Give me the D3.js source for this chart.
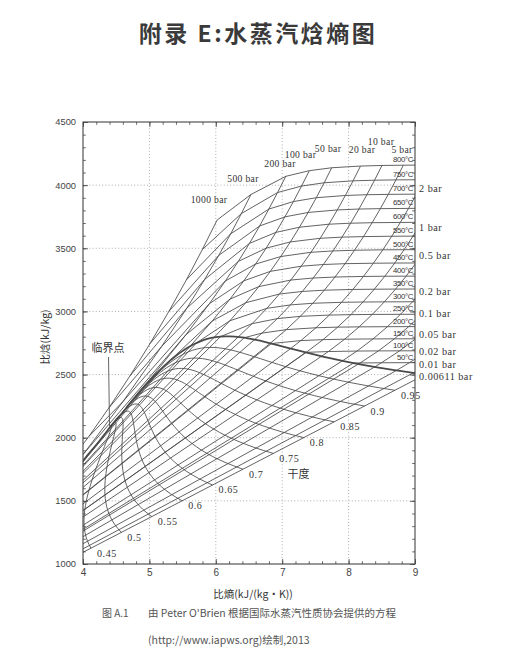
<!DOCTYPE html>
<html><head><meta charset="utf-8">
<script src="https://cdn.jsdelivr.net/npm/d3@7"></script>
<style>body{margin:0;background:#fff}svg{display:block}</style>
</head><body><svg id="c" width="528" height="658"></svg>
<script>
// ---------------- DATA ----------------
const pressures = [0.00611,0.01,0.02,0.05,0.1,0.2,0.5,1,2,5,10,20,50,100,200,500,1000]; // bar
const temps = [50,100,150,200,250,300,350,400,450,500,550,600,650,700,750,800]; // °C
const _ = null;
// entropy s [kJ/(kg·K)] on the (pressure, temperature) grid
const sGrid = [
 [_,_,_,_,_,_,_,_,_,_,_,_,_,_,_,_],
 [9.2368,9.5116,_,_,_,_,_,_,_,_,_,_,_,_,_,_],
 [8.9168,9.1916,9.4320,_,_,_,_,_,_,_,_,_,_,_,_,_],
 [8.4940,8.7688,9.0092,9.2248,9.4214,_,_,_,_,_,_,_,_,_,_,_],
 [8.1741,8.4489,8.6893,8.9049,9.1015,9.2827,9.4513,9.6094,_,_,_,_,_,_,_,_],
 [_,8.1262,8.3685,8.5844,8.7812,8.9626,9.1314,9.2894,9.4386,_,_,_,_,_,_,_],
 [_,7.6953,7.9413,8.1592,8.3568,8.5387,8.7079,8.8659,9.0150,9.1566,9.2908,_,_,_,_,_],
 [_,7.3611,7.6148,7.8356,8.0346,8.2172,8.3868,8.5452,8.6946,8.8362,8.9705,9.0999,9.2234,_,_,_],
 [_,_,7.2810,7.5081,7.7100,7.8941,8.0645,8.2236,8.3732,8.5153,8.6497,8.7793,8.9029,9.0221,9.1367,9.2479],
 [_,_,_,7.0610,7.2725,7.4614,7.6346,7.7956,7.9465,8.0893,8.2246,8.3544,8.4784,8.5978,8.7129,8.8240],
 [_,_,_,6.6955,6.9265,7.1246,7.3029,7.4670,7.6200,7.7642,7.9010,8.0311,8.1557,8.2755,8.3910,8.5024],
 [_,_,_,_,6.5475,6.7684,6.9583,7.1292,7.2866,7.4337,7.5725,7.7043,7.8300,7.9510,8.0674,8.1791],
 [_,_,_,_,_,6.2110,6.4516,6.6483,6.8210,6.9781,7.1237,7.2605,7.3903,7.5136,7.6319,7.7458],
 [_,_,_,_,_,_,5.9460,6.2141,6.4219,6.5995,6.7585,6.9045,7.0408,7.1693,7.2916,7.4085],
 [_,_,_,_,_,_,3.7275,5.5525,5.9043,6.1446,6.3390,6.5075,6.6596,6.7990,6.9302,7.0544],
 [_,_,_,_,_,_,3.580,4.012,4.599,5.184,5.564,5.831,6.044,6.224,6.385,6.529],
 [_,_,_,_,_,_,3.494,3.787,4.088,4.395,4.708,5.009,5.293,5.557,5.797,6.020]
];
// enthalpy h [kJ/kg] on the same grid
const hGrid = [
 [_,_,_,_,_,_,_,_,_,_,_,_,_,_,_,_],
 [2594.5,2688.4,_,_,_,_,_,_,_,_,_,_,_,_,_,_],
 [2594.3,2688.3,2783.5,_,_,_,_,_,_,_,_,_,_,_,_,_],
 [2593.4,2688.0,2783.3,2879.8,2977.6,_,_,_,_,_,_,_,_,_,_,_],
 [2592.0,2687.5,2783.0,2879.6,2977.5,3076.7,3177.8,3280.0,_,_,_,_,_,_,_,_],
 [_,2686.2,2782.3,2879.1,2977.1,3076.4,3177.6,3279.8,3384.2,_,_,_,_,_,_,_],
 [_,2682.4,2780.2,2877.8,2976.2,3075.8,3177.0,3279.3,3383.7,3489.3,3596.6,_,_,_,_,_],
 [_,2675.8,2776.6,2875.5,2974.5,3074.5,3175.8,3278.6,3383.1,3488.7,3596.2,3705.6,3816.8,_,_,_],
 [_,_,2769.1,2870.7,2971.2,3072.1,3174.1,3277.0,3381.7,3487.7,3595.2,3704.8,3815.9,3928.8,4043.2,4159.3],
 [_,_,_,2855.8,2961.0,3064.6,3168.1,3272.4,3378.1,3484.5,3592.6,3702.5,3813.9,3927.0,4041.6,4157.9],
 [_,_,_,2828.3,2943.1,3051.6,3158.2,3264.5,3371.4,3479.1,3588.4,3698.6,3810.8,3924.1,4039.1,4155.7],
 [_,_,_,_,2903.3,3024.2,3137.7,3248.4,3358.2,3468.3,3579.1,3690.7,3803.6,3918.2,4034.1,4151.2],
 [_,_,_,_,_,2925.7,3069.3,3196.7,3317.2,3434.7,3550.5,3666.9,3783.8,3900.3,4018.7,4137.7],
 [_,_,_,_,_,_,2924.0,3097.5,3242.4,3375.1,3501.0,3625.8,3748.9,3870.0,3992.6,4114.5],
 [_,_,_,_,_,_,1645.7,2816.9,3061.7,3241.2,3396.2,3539.0,3676.4,3810.6,3941.5,4069.9],
 [_,_,_,_,_,_,1630.0,1874.4,2284.7,2722.5,3025.8,3252.6,3443.5,3614.6,3775.0,3925.8],
 [_,_,_,_,_,_,1610.0,1800.0,2010.0,2240.0,2490.0,2745.0,3000.0,3250.0,3490.0,3724.0]
];
// saturation state of each isobar (null above the critical pressure)
const isoTsat = [0.01,6.97,17.50,32.87,45.81,60.06,81.32,99.61,120.21,151.83,179.88,212.38,263.94,311.00,365.75,_,_];
const isoHf = [0.00,29.30,73.43,137.75,191.81,251.42,340.54,417.50,504.70,640.09,762.51,908.47,1154.5,1408.1,1827.1,_,_];
const isoHg = [2500.9,2513.7,2533.1,2560.7,2583.9,2608.9,2645.2,2674.9,2706.3,2748.1,2777.1,2798.3,2794.2,2725.5,2412.3,_,_];
const isoSf = [0.0000,0.1059,0.2606,0.4763,0.6492,0.8320,1.0912,1.3028,1.5302,1.8604,2.1381,2.4468,2.9207,3.3603,4.0146,_,_];
const isoSg = [9.1556,8.9749,8.7226,8.3938,8.1488,7.9073,7.5931,7.3588,7.1270,6.8207,6.5850,6.3390,5.9737,5.6159,4.9310,_,_];
// saturation table by temperature
const satT  = [0.01,10,20,30,40,50,60,70,80,90,100,110,120,130,140,150,160,170,180,190,200,210,220,230,240,250,260,270,280,290,300,310,320,330,340,350,355,360,365,368,370,372,373,373.5,373.95];
const satP  = [0.00611,0.01228,0.02339,0.04247,0.07384,0.12352,0.19946,0.3119,0.4739,0.7018,1.0142,1.4338,1.9867,2.7028,3.6154,4.7616,6.1823,7.9219,10.028,12.552,15.549,19.077,23.196,27.971,33.469,39.762,46.923,55.030,64.166,74.418,85.879,98.651,112.84,128.56,145.93,165.29,175.7,186.66,198.3,205.6,210.44,215.4,218.0,219.3,220.64];
const satHf = [0.00,42.02,83.91,125.74,167.53,209.34,251.18,293.07,335.02,377.04,419.17,461.42,503.81,546.38,589.16,632.18,675.47,719.08,763.05,807.43,852.26,897.61,943.55,990.14,1037.5,1085.7,1135.0,1185.3,1236.9,1290.0,1344.8,1402.0,1462.2,1526.2,1594.5,1671.2,1714.0,1764.2,1820.0,1860.0,1890.7,1950.0,1990.0,2030.0,2084.3];
const satHg = [2500.9,2519.2,2537.4,2555.6,2573.5,2591.3,2608.8,2626.1,2643.0,2659.6,2675.6,2691.1,2705.9,2720.1,2733.5,2745.9,2757.4,2767.9,2777.2,2785.3,2792.0,2797.3,2801.1,2803.1,2803.0,2800.9,2796.6,2789.7,2779.9,2766.7,2749.6,2727.9,2700.6,2666.0,2621.8,2563.6,2525.5,2481.5,2421.0,2372.0,2332.3,2262.0,2200.0,2150.0,2084.3];
const satSf = [0.0000,0.1511,0.2965,0.4368,0.5724,0.7038,0.8313,0.9551,1.0756,1.1929,1.3072,1.4188,1.5279,1.6346,1.7392,1.8418,1.9426,2.0417,2.1392,2.2355,2.3305,2.4245,2.5177,2.6101,2.7020,2.7935,2.8849,2.9765,3.0685,3.1612,3.2552,3.3510,3.4494,3.5518,3.6601,3.7784,3.8429,3.9167,4.0060,4.0660,4.1142,4.2100,4.2700,4.3300,4.4070];
const satSg = [9.1556,8.8999,8.6661,8.4520,8.2555,8.0748,7.9081,7.7540,7.6111,7.4781,7.3541,7.2381,7.1291,7.0264,6.9293,6.8371,6.7491,6.6650,6.5840,6.5059,6.4302,6.3563,6.2840,6.2128,6.1423,6.0721,6.0016,5.9304,5.8579,5.7834,5.7059,5.6244,5.5372,5.4422,5.3356,5.2110,5.1383,5.0536,4.9440,4.8620,4.7996,4.6900,4.6000,4.5100,4.4070];
const qualities = [0.45,0.5,0.55,0.6,0.65,0.7,0.75,0.8,0.85,0.9,0.95];
const qualityText = ["0.45","0.5","0.55","0.6","0.65","0.7","0.75","0.8","0.85","0.9","0.95"];
// axis ticks
const sMajor = [4,5,6,7,8,9];
const hMajor = [1000,1500,2000,2500,3000,3500,4000,4500];
// isobar label annotations
const topLabelText = ["1000 bar","500 bar","200 bar","100 bar","50 bar","20 bar","10 bar","5 bar"];
const topLabelS = [5.898,6.410,6.967,7.276,7.690,8.202,8.488,8.804];
const topLabelH = [3890,4056,4175,4239,4294,4286,4349,4286];
const sideLabelText = ["2 bar","1 bar","0.5 bar","0.2 bar","0.1 bar","0.05 bar","0.02 bar","0.01 bar","0.00611 bar"];
const sideLabelH = [3977,3668,3439,3154,2980,2821,2679,2576,2481];

// ---------------- CHART ----------------
const svg = d3.select("#c");
const X0=83, X1=415, Y0=122, Y1=564;
const x = d3.scaleLinear().domain([4,9]).range([X0,X1]);
const y = d3.scaleLinear().domain([1000,4500]).range([Y1,Y0]);
const PC = 220.64, TC = 373.95;
const ink = "#474747";

svg.append("defs").append("clipPath").attr("id","clip")
  .append("rect").attr("x",X0).attr("y",Y0).attr("width",X1-X0).attr("height",Y1-Y0);

// dotted grid
const grid = svg.append("g").attr("stroke","#8c8c8c").attr("stroke-width",0.7).attr("stroke-dasharray","1,2.2");
sMajor.slice(1,-1).forEach(v=>grid.append("line").attr("x1",x(v)).attr("x2",x(v)).attr("y1",Y0).attr("y2",Y1));
hMajor.slice(1,-1).forEach(v=>grid.append("line").attr("y1",y(v)).attr("y2",y(v)).attr("x1",X0).attr("x2",X1));

// curves
const line = d3.line().x(d=>x(d[0])).y(d=>y(d[1]));
const plot = svg.append("g").attr("clip-path","url(#clip)").attr("fill","none");

// isobars
const isobars = pressures.map((p,i)=>{
  const pts=[];
  if (p < PC) {
    temps.forEach((t,j)=>{ if(sGrid[i][j]!==null && t<isoTsat[i]) pts.push([sGrid[i][j],hGrid[i][j]]); });
    pts.push([isoSf[i],isoHf[i]]); pts.push([isoSg[i],isoHg[i]]);
    temps.forEach((t,j)=>{ if(sGrid[i][j]!==null && t>isoTsat[i]) pts.push([sGrid[i][j],hGrid[i][j]]); });
  } else {
    temps.forEach((t,j)=>{ if(sGrid[i][j]!==null) pts.push([sGrid[i][j],hGrid[i][j]]); });
  }
  return pts;
});
// isotherms
const isotherms = temps.map((t,j)=>{
  const pts=[];
  const order = d3.range(pressures.length).reverse();
  if (t < TC) {
    const k = satT.indexOf(t), ps = satP[k];
    order.forEach(i=>{ if(sGrid[i][j]!==null && pressures[i]>ps) pts.push([sGrid[i][j],hGrid[i][j]]); });
    pts.push([satSf[k],satHf[k]]); pts.push([satSg[k],satHg[k]]);
    order.forEach(i=>{ if(sGrid[i][j]!==null && pressures[i]<ps) pts.push([sGrid[i][j],hGrid[i][j]]); });
  } else {
    order.forEach(i=>{ if(sGrid[i][j]!==null) pts.push([sGrid[i][j],hGrid[i][j]]); });
  }
  return pts;
});
// quality lines
const qLines = qualities.map(q=>satT.map((t,k)=>[satSf[k]+q*(satSg[k]-satSf[k]), satHf[k]+q*(satHg[k]-satHf[k])]));
// saturation dome
const dome = satT.map((t,k)=>[satSf[k],satHf[k]]).concat(satT.map((t,k)=>[satSg[k],satHg[k]]).reverse());

plot.selectAll(".iso").data(isobars.concat(isotherms)).join("path")
  .attr("d",line).attr("stroke",ink).attr("stroke-width",0.85);
plot.selectAll(".q").data(qLines).join("path")
  .attr("d",line).attr("stroke",ink).attr("stroke-width",0.85);
plot.append("path").datum(dome).attr("d",line).attr("stroke","#4a4a4a").attr("stroke-width",1.8);

// axes (inward ticks, all four sides)
const sMinor = d3.range(40,91,2).map(v=>v/10);
const hMinor = d3.range(10,46,1).map(v=>v*100);
function ax(gen, scale, tr, minor, major, labels, pad){
  const g1 = svg.append("g").attr("transform",tr).call(gen(scale).tickValues(minor).tickSize(-2.8).tickFormat(""));
  const g2 = svg.append("g").attr("transform",tr).call(gen(scale).tickValues(major).tickSize(-5).tickPadding(pad).tickFormat(labels?d3.format("d"):""));
  [g1,g2].forEach(g=>{ g.select(".domain").remove(); g.selectAll("line").attr("stroke","#444").attr("stroke-width",0.8); });
  g2.selectAll("text").attr("fill","#444").attr("font-family","Liberation Sans, Arial, sans-serif");
  return g2;
}
ax(d3.axisBottom, x, `translate(0,${Y1})`, sMinor, sMajor, true, 5).selectAll("text").attr("font-size",10);
ax(d3.axisTop, x, `translate(0,${Y0})`, sMinor, sMajor, false, 3);
ax(d3.axisLeft, y, `translate(${X0},0)`, hMinor, hMajor, true, 7).selectAll("text").attr("font-size",9.3);
ax(d3.axisRight, y, `translate(${X1},0)`, hMinor, hMajor, false, 3);
svg.append("rect").attr("x",X0).attr("y",Y0).attr("width",X1-X0).attr("height",Y1-Y0)
  .attr("fill","none").attr("stroke","#444").attr("stroke-width",1.1);

// isotherm labels at the right edge
function hAtS(pts,s0){
  for(let i=1;i<pts.length;i++){const a=pts[i-1],b=pts[i];
    if((a[0]-s0)*(b[0]-s0)<=0 && a[0]!==b[0]) return a[1]+(b[1]-a[1])*(s0-a[0])/(b[0]-a[0]);}
  return pts[pts.length-1][1];
}
svg.append("g").selectAll("text").data(temps).join("text")
  .attr("x",X1-2).attr("y",(t,j)=>y(hAtS(isotherms[j],9))-5.5)
  .attr("dominant-baseline","central").attr("text-anchor","end")
  .attr("font-family","Liberation Sans, Arial, sans-serif").attr("font-size",7.8)
  .attr("letter-spacing","-0.35").attr("fill","#333").text(t=>t+"°C");

const serif = "Liberation Serif, DejaVu Serif, serif";
// isobar labels
svg.append("g").selectAll("text").data(topLabelText).join("text")
  .attr("x",(d,i)=>x(topLabelS[i])).attr("y",(d,i)=>y(topLabelH[i]))
  .attr("text-anchor","middle").attr("dominant-baseline","central")
  .attr("font-family",serif).attr("font-size",9.6).attr("letter-spacing","0.35").attr("fill","#333").text(d=>d);
svg.append("g").selectAll("text").data(sideLabelText).join("text")
  .attr("x",X1+4).attr("y",(d,i)=>y(sideLabelH[i]))
  .attr("dominant-baseline","central")
  .attr("font-family",serif).attr("font-size",10.2).attr("letter-spacing","0.5").attr("fill","#333").text(d=>d);

// quality labels at the lower ends of the quality lines
svg.append("g").selectAll("text").data(qualityText).join("text")
  .attr("x",(d,i)=>x(qLines[i][0][0])+6).attr("y",(d,i)=>y(qLines[i][0][1])+5)
  .attr("dominant-baseline","central")
  .attr("font-family",serif).attr("font-size",10).attr("letter-spacing","0.6").attr("fill","#333").text(d=>d);

const cjk = "Noto Sans CJK SC, sans-serif";
// 干度
svg.append("text").attr("x",x(7.245)).attr("y",y(1720)).attr("text-anchor","middle").attr("dominant-baseline","central")
  .attr("font-family",cjk).attr("font-size",11).attr("fill","#333").text("干度");
// critical point annotation
const cs = satSf[satSf.length-1], ch = satHf[satHf.length-1];
svg.append("text").attr("x",x(cs)-2).attr("y",347).attr("text-anchor","middle").attr("dominant-baseline","central")
  .attr("font-family",cjk).attr("font-size",11).attr("fill","#333333").text("临界点");
svg.append("line").attr("x1",x(cs)-1.5).attr("x2",x(cs)-0.5).attr("y1",357).attr("y2",y(ch)-1)
  .attr("stroke","#555").attr("stroke-width",0.9);

// axis titles
svg.append("text").attr("x",(X0+X1)/2+4).attr("y",593).attr("text-anchor","middle").attr("dominant-baseline","central")
  .attr("font-family",cjk).attr("font-size",10.5).attr("fill","#333").text("比熵(kJ/(kg·K))");
svg.append("text").attr("transform","translate(44,337) rotate(-90)").attr("text-anchor","middle").attr("dominant-baseline","central")
  .attr("font-family",cjk).attr("font-size",10.5).attr("fill","#333").text("比焓(kJ/kg)");

// title
svg.append("text").attr("x",258).attr("y",32).attr("text-anchor","middle").attr("dominant-baseline","central")
  .attr("font-family",cjk).attr("font-weight",700).attr("font-size",23).attr("letter-spacing","2.5").attr("fill","#3a3a3a")
  .text("附录 E:水蒸汽焓熵图");

// caption
svg.append("text").attr("x",102).attr("y",612).attr("dominant-baseline","central")
  .attr("font-family",cjk).attr("font-size",10).attr("fill","#555").text("图 A.1");
svg.append("text").attr("x",148).attr("y",612).attr("dominant-baseline","central")
  .attr("font-family",cjk).attr("font-size",10.5).attr("fill","#555").text("由 Peter O'Brien 根据国际水蒸汽性质协会提供的方程");
svg.append("text").attr("x",148).attr("y",639).attr("dominant-baseline","central")
  .attr("font-family",cjk).attr("font-size",10.5).attr("fill","#555").text("(http://www.iapws.org)绘制,2013");
</script></body></html>
